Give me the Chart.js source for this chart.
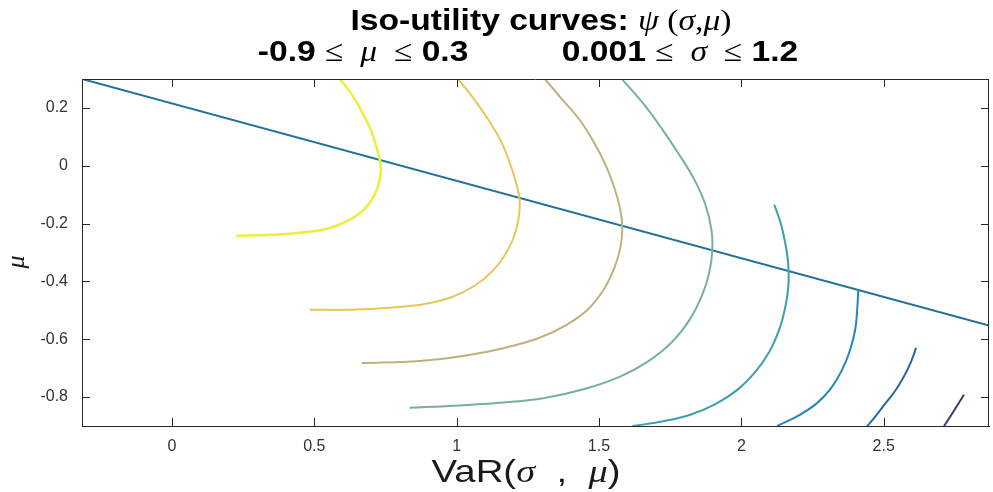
<!DOCTYPE html>
<html>
<head>
<meta charset="utf-8">
<script src="https://cdn.jsdelivr.net/npm/chart.js@4"></script>
<style>
  html, body { margin: 0; padding: 0; background: #fff; }
  #wrap { width: 993px; height: 492px; }
</style>
</head>
<body>
<div id="wrap"><canvas id="chart" width="993" height="492"></canvas></div>
<script>
// axis ticks
const xTicks = [0, 0.5, 1, 1.5, 2, 2.5];
const yTicks = [-0.8, -0.6, -0.4, -0.2, 0, 0.2];

// straight line (VaR constraint)
const lineX = [-0.316, 2.87];
const lineY = [0.3, -0.553];

// iso-utility curves
const curve1X = [0.589, 0.632, 0.667, 0.698, 0.719, 0.733, 0.730, 0.712, 0.681, 0.632, 0.554, 0.449, 0.344, 0.225];
const curve1Y = [0.301, 0.246, 0.187, 0.125, 0.062, 0.003, -0.048, -0.100, -0.145, -0.183, -0.215, -0.232, -0.239, -0.242];
const curve2X = [1.004, 1.063, 1.116, 1.158, 1.189, 1.211, 1.221, 1.218, 1.200, 1.168, 1.123, 1.063, 0.986, 0.888, 0.765, 0.625, 0.484];
const curve2Y = [0.301, 0.228, 0.152, 0.080, 0.003, -0.066, -0.118, -0.180, -0.249, -0.311, -0.367, -0.415, -0.453, -0.478, -0.491, -0.498, -0.498];
const curve3X = [1.309, 1.372, 1.432, 1.481, 1.523, 1.554, 1.575, 1.582, 1.575, 1.554, 1.516, 1.460, 1.386, 1.291, 1.168, 1.028, 0.870, 0.667];
const curve3Y = [0.301, 0.228, 0.159, 0.083, 0.003, -0.076, -0.152, -0.215, -0.284, -0.353, -0.429, -0.498, -0.550, -0.595, -0.630, -0.657, -0.675, -0.682];
const curve4X = [1.579, 1.653, 1.723, 1.782, 1.835, 1.874, 1.895, 1.898, 1.888, 1.863, 1.818, 1.754, 1.670, 1.572, 1.449, 1.309, 1.151, 0.993, 0.835];
const curve4Y = [0.301, 0.218, 0.125, 0.038, -0.048, -0.135, -0.221, -0.291, -0.367, -0.446, -0.533, -0.612, -0.678, -0.730, -0.772, -0.803, -0.820, -0.830, -0.837];
const curve5X = [2.116, 2.137, 2.154, 2.165, 2.165, 2.154, 2.133, 2.098, 2.049, 1.986, 1.909, 1.818, 1.712, 1.618];
const curve5Y = [-0.135, -0.194, -0.266, -0.343, -0.419, -0.491, -0.567, -0.644, -0.713, -0.775, -0.824, -0.862, -0.886, -0.900];
const curve6X = [2.411, 2.407, 2.400, 2.382, 2.354, 2.316, 2.267, 2.204, 2.126];
const curve6Y = [-0.429, -0.498, -0.567, -0.637, -0.706, -0.768, -0.820, -0.862, -0.900];
const curve7X = [2.614, 2.596, 2.572, 2.540, 2.502, 2.467, 2.442];
const curve7Y = [-0.630, -0.678, -0.727, -0.779, -0.827, -0.872, -0.900];
const curve8X = [2.782, 2.758, 2.733, 2.712];
const curve8Y = [-0.792, -0.830, -0.869, -0.900];

const curves = [
  [curve1X, curve1Y, '#eeee3a', 2.5],
  [curve2X, curve2Y, '#e6c65a', 2],
  [curve3X, curve3Y, '#bdb27a', 2],
  [curve4X, curve4Y, '#78b09c', 2],
  [curve5X, curve5Y, '#3c9fae', 2],
  [curve6X, curve6Y, '#2386bd', 2],
  [curve7X, curve7Y, '#2a66a6', 2],
  [curve8X, curve8Y, '#3b3a78', 2]
];

const pts = (xs, ys) => xs.map((x, i) => ({ x: x, y: ys[i] }));

const datasets = curves.map(c => ({
  data: pts(c[0], c[1]),
  borderColor: c[2],
  borderWidth: c[3],
  showLine: true,
  pointRadius: 0,
  tension: 0.4
}));
datasets.push({
  data: pts(lineX, lineY),
  borderColor: '#22719a',
  borderWidth: 2,
  showLine: true,
  pointRadius: 0,
  tension: 0
});

const SANS = '"Liberation Sans", Arial, sans-serif';
const SERIF = '"Liberation Serif", "DejaVu Serif", serif';

// draw a line of mixed-font text centred on cx, stretched by sx
function drawRuns(ctx, runs, cx, y, sx) {
  let total = 0;
  runs.forEach(r => { ctx.font = r[1]; total += ctx.measureText(r[0]).width; });
  ctx.save();
  ctx.translate(cx, y);
  ctx.scale(sx, 1);
  let x = -total / 2;
  ctx.textAlign = 'left';
  ctx.textBaseline = 'alphabetic';
  runs.forEach(r => { ctx.font = r[1]; ctx.fillText(r[0], x, 0); x += ctx.measureText(r[0]).width; });
  ctx.restore();
}

const decor = {
  id: 'decor',
  afterDraw(chart) {
    const { ctx, chartArea: a, scales } = chart;
    ctx.save();
    // box + inward ticks
    ctx.strokeStyle = '#262626';
    ctx.lineWidth = 1;
    ctx.beginPath();
    ctx.moveTo(a.left, a.top + 0.5); ctx.lineTo(a.right, a.top + 0.5);
    ctx.moveTo(a.right - 0.5, a.top); ctx.lineTo(a.right - 0.5, a.bottom);
    const tl = 8;
    xTicks.forEach(v => {
      const px = Math.round(scales.x.getPixelForValue(v)) + 0.5;
      ctx.moveTo(px, a.bottom); ctx.lineTo(px, a.bottom - tl);
      ctx.moveTo(px, a.top); ctx.lineTo(px, a.top + tl);
    });
    yTicks.forEach(v => {
      const py = Math.round(scales.y.getPixelForValue(v)) + 0.5;
      ctx.moveTo(a.left, py); ctx.lineTo(a.left + tl, py);
      ctx.moveTo(a.right, py); ctx.lineTo(a.right - tl, py);
    });
    ctx.stroke();

    // title
    ctx.fillStyle = '#000';
    const B = 'bold 30px ' + SANS;
    const S = '30px ' + SERIF;
    const I = 'italic 30px ' + SERIF;
    drawRuns(ctx, [['Iso-utility curves: ', B], ['\u03C8', I], [' (', S], ['\u03C3', I], [',', S], ['\u03BC', I], [')', S]], 541, 30, 1.12);
    drawRuns(ctx, [['-0.9 ', B], ['\u2264', S], ['  \u03BC  ', I], ['\u2264', S], [' 0.3', B],
                   ['          ', B], ['0.001 ', B], ['\u2264', S], ['  \u03C3  ', I], ['\u2264', S], [' 1.2', B]], 528, 61, 1.12);

    // x label
    ctx.fillStyle = '#1a1a1a';
    const XS = '32px ' + SANS;
    const XI = 'italic 32px ' + SERIF;
    drawRuns(ctx, [['VaR(', XS], ['\u03C3', XI], ['  ,  ', XS], ['\u03BC', XI], [')', XS]], 526, 482, 1.2);

    // y label
    ctx.save();
    ctx.translate(24, 262);
    ctx.rotate(-Math.PI / 2);
    ctx.font = 'italic 26px ' + SERIF;
    ctx.textAlign = 'center';
    ctx.fillText('\u03BC', 0, 0);
    ctx.restore();

    ctx.restore();
  }
};

new Chart(document.getElementById('chart').getContext('2d'), {
  type: 'scatter',
  data: { datasets: datasets },
  options: {
    responsive: false,
    animation: false,
    layout: { padding: { top: 79, right: 4, left: 0, bottom: 0 } },
    plugins: { legend: { display: false }, tooltip: { enabled: false } },
    scales: {
      x: {
        type: 'linear',
        min: -0.316, max: 2.87,
        afterBuildTicks: s => { s.ticks = xTicks.map(v => ({ value: v })); },
        afterFit: s => { s.height = 66; },
        grid: { display: false, drawTicks: false },
        border: { display: true, color: '#262626', width: 1 },
        ticks: { padding: 11, color: '#333', font: { family: SANS, size: 16 }, maxRotation: 0,
                 callback: v => String(v) }
      },
      y: {
        type: 'linear',
        min: -0.9, max: 0.3,
        afterBuildTicks: s => { s.ticks = yTicks.map(v => ({ value: v })); },
        afterFit: s => { s.width = 82; },
        grid: { display: false, drawTicks: false },
        border: { display: true, color: '#262626', width: 1 },
        ticks: { padding: 14, color: '#333', font: { family: SANS, size: 16 },
                 callback: v => String(Math.round(v * 10) / 10) }
      }
    }
  },
  plugins: [decor]
});
</script>
</body>
</html>
